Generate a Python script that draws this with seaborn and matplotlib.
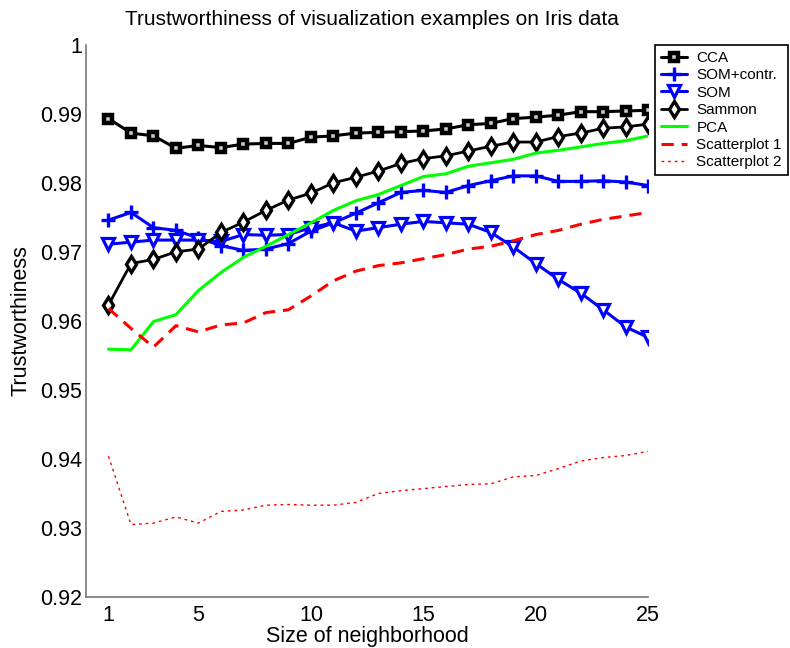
import numpy as np
import pandas as pd
import matplotlib
matplotlib.use("Agg")
import matplotlib.pyplot as plt
import seaborn as sns

neighborhood = list(range(1, 26))

cca = [0.9893, 0.9872, 0.9868, 0.9850, 0.9854, 0.9851, 0.9856, 0.9857, 0.9857, 0.9866,
       0.9868, 0.9872, 0.9873, 0.9874, 0.9875, 0.9878, 0.9884, 0.9886, 0.9893, 0.9895,
       0.9898, 0.9903, 0.9903, 0.9904, 0.9905]
som_contr = [0.9746, 0.9757, 0.9735, 0.9731, 0.9720, 0.9709, 0.9702, 0.9704, 0.9712, 0.9730,
             0.9742, 0.9756, 0.9771, 0.9786, 0.9789, 0.9786, 0.9796, 0.9803, 0.9810, 0.9810,
             0.9802, 0.9802, 0.9803, 0.9801, 0.9796]
som = [0.9711, 0.9714, 0.9717, 0.9717, 0.9717, 0.9715, 0.9725, 0.9724, 0.9725, 0.9735,
       0.9742, 0.9730, 0.9735, 0.9740, 0.9744, 0.9742, 0.9740, 0.9728, 0.9707, 0.9683,
       0.9660, 0.9640, 0.9616, 0.9591, 0.9576]
sammon = [0.9623, 0.9683, 0.9689, 0.9700, 0.9704, 0.9728, 0.9743, 0.9760, 0.9775, 0.9785,
          0.9800, 0.9808, 0.9817, 0.9828, 0.9835, 0.9839, 0.9846, 0.9853, 0.9859, 0.9859,
          0.9867, 0.9872, 0.9879, 0.9881, 0.9885]
pca = [0.9559, 0.9558, 0.9599, 0.9609, 0.9644, 0.9670, 0.9692, 0.9708, 0.9725, 0.9742,
       0.9760, 0.9774, 0.9783, 0.9796, 0.9809, 0.9813, 0.9824, 0.9829, 0.9834, 0.9843,
       0.9847, 0.9852, 0.9857, 0.9861, 0.9868]
scatter1 = [0.9618, 0.9589, 0.9562, 0.9593, 0.9584, 0.9594, 0.9597, 0.9612, 0.9616, 0.9636,
            0.9658, 0.9672, 0.9680, 0.9684, 0.9690, 0.9696, 0.9704, 0.9708, 0.9716, 0.9725,
            0.9731, 0.9740, 0.9747, 0.9752, 0.9757]
scatter2 = [0.9404, 0.9305, 0.9307, 0.9316, 0.9307, 0.9324, 0.9326, 0.9333, 0.9334, 0.9333,
            0.9333, 0.9337, 0.9350, 0.9354, 0.9357, 0.9360, 0.9363, 0.9364, 0.9374, 0.9376,
            0.9386, 0.9397, 0.9402, 0.9405, 0.9411]

series_names = ["CCA", "SOM+contr.", "SOM", "Sammon", "PCA", "Scatterplot 1", "Scatterplot 2"]
series_values = [cca, som_contr, som, sammon, pca, scatter1, scatter2]

x_ticks = [1, 5, 10, 15, 20, 25]
y_ticks = [0.92, 0.93, 0.94, 0.95, 0.96, 0.97, 0.98, 0.99, 1.0]
y_ticklabels = ["0.92", "0.93", "0.94", "0.95", "0.96", "0.97", "0.98", "0.99", "1"]

sns.set_theme(style="white")
plt.rcParams['font.family'] = ['Liberation Sans', 'DejaVu Sans']
plt.rcParams['text.color'] = 'black'
plt.rcParams['axes.labelcolor'] = 'black'

styles = {
    "CCA": dict(color="black", marker="s", markersize=6, markerfacecolor="#cccccc",
                markeredgecolor="black", markeredgewidth=3.2, linewidth=2.2, linestyle="-"),
    "SOM+contr.": dict(color="blue", marker="+", markersize=10, markeredgecolor="blue",
                       markeredgewidth=2.4, linewidth=2.2, linestyle="-"),
    "SOM": dict(color="blue", marker="v", markersize=8.5, markerfacecolor="white",
                markeredgecolor="blue", markeredgewidth=2.3, linewidth=2.2, linestyle="-"),
    "Sammon": dict(color="black", marker="d", markersize=8, markerfacecolor="white",
                   markeredgecolor="black", markeredgewidth=2.4, linewidth=2.0, linestyle="-"),
    "PCA": dict(color=(0, 1, 0), linewidth=2.2, linestyle="-"),
    "Scatterplot 1": dict(color="red", linewidth=2.2, linestyle=(0, (4, 2.6))),
    "Scatterplot 2": dict(color="red", linewidth=1.0, linestyle=(0, (2, 2.8))),
}

df = pd.DataFrame({
    "size": np.tile(neighborhood, len(series_names)),
    "trust": np.concatenate(series_values),
    "method": np.repeat(series_names, len(neighborhood)),
})

fig = plt.figure(figsize=(7.9, 6.48), dpi=100)
ax = fig.add_axes([86 / 790, 1 - 597 / 648, (648.3 - 86) / 790, (597 - 44.7) / 648])

for name in series_names:
    sub = df[df["method"] == name]
    st = dict(styles[name])
    ls = st.pop("linestyle")
    sns.lineplot(data=sub, x="size", y="trust", ax=ax, label=name, legend=False, **st)
    ax.lines[-1].set_linestyle(ls)

ax.set_xlim(0, 25)
ax.set_ylim(0.92, 1.0)
ax.set_xticks(x_ticks)
ax.set_xticklabels([str(t) for t in x_ticks])
ax.set_yticks(y_ticks)
ax.set_yticklabels(y_ticklabels)
ax.tick_params(direction="in", length=4, width=1, colors="#666666",
               labelcolor="black", labelsize=15.5)
ax.tick_params(axis="y", pad=3)
ax.tick_params(axis="x", pad=6)
for side in ["top", "right"]:
    ax.spines[side].set_visible(False)
for side in ["left", "bottom"]:
    ax.spines[side].set_color("#777777")
    ax.spines[side].set_linewidth(1.2)

ax.set_xlabel("Size of neighborhood", fontsize=15.5, labelpad=0, color="black")
ax.set_ylabel("Trustworthiness", fontsize=15.5, labelpad=6, color="black")
ax.set_title("Trustworthiness of visualization examples on Iris data", fontsize=15,
             pad=14.5, x=0.509, color="black")

handles = ax.get_lines()[:len(series_names)]
leg = fig.legend(handles, series_names, loc="upper left",
                 bbox_to_anchor=(655 / 790, 1 - 45 / 648), fontsize=11,
                 frameon=True, fancybox=False, shadow=False, framealpha=1,
                 edgecolor="black", borderpad=0.4, labelspacing=0.22,
                 handlelength=1.7, handletextpad=0.6, borderaxespad=0)
leg.get_frame().set_linewidth(1.2)
for t in leg.get_texts():
    t.set_color("black")

fig.savefig("out.png", dpi=100)
